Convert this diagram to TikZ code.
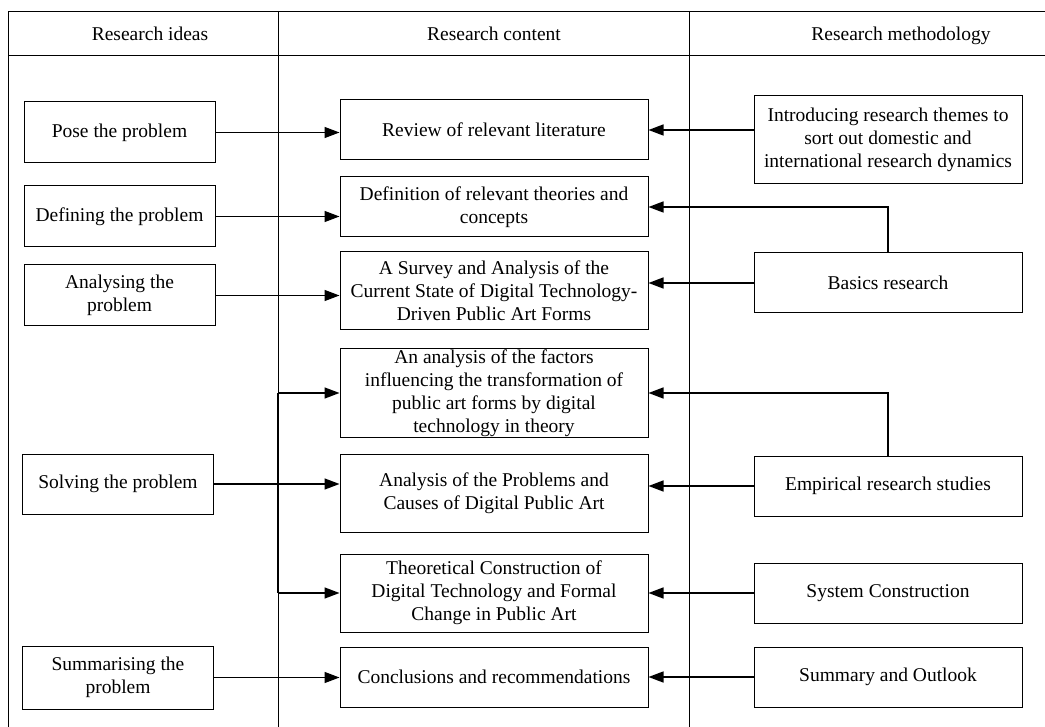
\documentclass[tikz,border=0pt]{standalone}
\usepackage{fontspec}
\setmainfont{Liberation Serif}
\usetikzlibrary{arrows.meta}

\begin{document}
\begin{tikzpicture}[x=1pt, y=-1pt,
  font=\fontsize{19.5}{23}\selectfont,
  box/.style = {shape=rectangle, draw, line width=1pt,
    align=center, inner sep=1pt},
  ideabox/.style = {box, minimum width=191pt, minimum height=61pt},
  contbox/.style = {box, minimum width=308pt},
  methbox/.style = {box, minimum width=268pt, minimum height=60pt},
  head/.style = {anchor=base},
  arr/.style = {line width=1.4pt, -{Triangle[length=15pt,width=11pt]}}]
  \useasboundingbox (0,0) rectangle (1045,727);

  % table frame
  \coordinate (d1) at (278,11);
  \coordinate (d2) at (689,11);
  \draw[line width=0.8pt] (1045,11) -- (8,11) -- (8,727);
  \draw[line width=0.8pt] (8,55) -- (1045,55);
  \draw[line width=0.8pt] (d1) -- (278,727);
  \draw[line width=0.8pt] (d2) -- (689,727);
  \node[head] (h1) at (150,41) {Research ideas};
  \node[head] (h2) at (494,41) {Research content};
  \node[head] (h3) at (901,41) {Research methodology};

  % research ideas
  \node[ideabox] (pose) at (119.5,132.5) {Pose the problem};
  \node[ideabox] (define) at (119.5,216.5) {Defining the problem};
  \node[ideabox] (analyse) at (119.5,295.5) {Analysing the\\problem};
  \node[ideabox, minimum height=60pt] (solve) at (118,484) {Solving the problem};
  \node[ideabox, minimum height=63pt] (summ) at (118,677.5) {Summarising the\\problem};

  % research content
  \node[contbox, minimum height=60pt] (c1) at (494,130) {Review of relevant literature};
  \node[contbox, minimum height=60pt] (c2) at (494,207) {Definition of relevant theories and\\concepts};
  \node[contbox, minimum height=78pt] (c3) at (494,291) {A Survey and Analysis of the\\Current State of Digital Technology-\\Driven Public Art Forms};
  \node[contbox, minimum height=88pt] (c4) at (494,393) {An analysis of the factors\\influencing the transformation of\\public art forms by digital\\technology in theory};
  \node[contbox, minimum height=78pt] (c5) at (494,493) {Analysis of the Problems and\\Causes of Digital Public Art};
  \node[contbox, minimum height=78pt] (c6) at (494,593) {Theoretical Construction of\\Digital Technology and Formal\\Change in Public Art};
  \node[contbox, minimum height=60pt] (c7) at (494,677) {Conclusions and recommendations};

  % research methodology
  \node[methbox, minimum height=88pt] (intro) at (888,140) {Introducing research themes to\\sort out domestic and\\international research dynamics};
  \node[methbox] (basic) at (888,283) {Basics research};
  \node[methbox] (emp) at (888,486) {Empirical research studies};
  \node[methbox] (sys) at (888,593) {System Construction};
  \node[methbox] (outlook) at (888,677) {Summary and Outlook};

  % ideas -> content
  \draw[arr] (pose.east) -- (pose.east -| c1.west);
  \draw[arr] (define.east) -- (define.east -| c2.west);
  \draw[arr] (analyse.east) -- (analyse.east -| c3.west);
  \coordinate (trunk) at (solve.east -| d1);
  \draw[line width=1.4pt] (solve.east) -- (trunk);
  \draw[line width=1.4pt] (c4.west -| trunk) -- (c6.west -| trunk);
  \draw[arr] (c4.west -| trunk) -- (c4.west);
  \draw[arr] (trunk) -- (trunk -| c5.west);
  \draw[arr] (c6.west -| trunk) -- (c6.west);
  \draw[arr] (summ.east) -- (summ.east -| c7.west);

  % methodology -> content
  \draw[arr] (intro.west |- c1.east) -- (c1.east);
  \draw[arr] (basic.north) |- (c2.east);
  \draw[arr] (basic.west) -- (basic.west -| c3.east);
  \draw[arr] (emp.north) |- (c4.east);
  \draw[arr] (emp.west) -- (emp.west -| c5.east);
  \draw[arr] (sys.west) -- (sys.west -| c6.east);
  \draw[arr] (outlook.west) -- (outlook.west -| c7.east);
\end{tikzpicture}
\end{document}
